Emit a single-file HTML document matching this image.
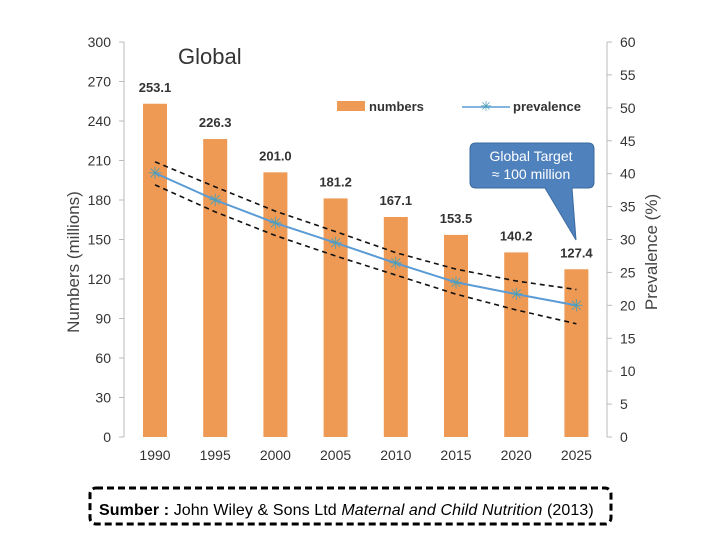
<!DOCTYPE html>
<html><head><meta charset="utf-8"><style>
body{margin:0;background:#fff;}
svg{display:block;font-family:"Liberation Sans",sans-serif;}
</style></head><body>
<svg id="chart" width="720" height="540" viewBox="0 0 720 540">
<g id="axes"></g><g id="bars"></g><g id="lines"></g>
<text x="178" y="64" font-size="22" fill="#333">Global</text>
<text transform="translate(79,262) rotate(-90)" text-anchor="middle" font-size="17" fill="#444">Numbers (millions)</text>
<text transform="translate(657,252) rotate(-90)" text-anchor="middle" font-size="17" fill="#444">Prevalence (%)</text>
<g>
<rect x="337" y="101" width="28" height="10" fill="#ee9a55"/>
<text x="369" y="111" font-size="13" font-weight="bold" fill="#333">numbers</text>
<line x1="462" y1="107" x2="510" y2="107" stroke="#5b9bd5" stroke-width="1.5"/>
<text x="486" y="111" text-anchor="middle" font-size="14" fill="#4a9fb5">✳</text>
<text x="513" y="111" font-size="13" font-weight="bold" fill="#333">prevalence</text>
</g>
<g>
<path d="M476,143 H588 Q594,143 594,149 V182 Q594,188 588,188 H572 L576,240 L545,188 H476 Q470,188 470,182 V149 Q470,143 476,143 Z" fill="#4f81bd" stroke="#3a6aa0" stroke-width="1"/>
<text x="531" y="161" text-anchor="middle" font-size="14" fill="#fff">Global Target</text>
<text x="531" y="179" text-anchor="middle" font-size="14" fill="#fff">≈ 100 million</text>
</g>
<rect x="90" y="488" width="521" height="36" rx="6" fill="none" stroke="#000" stroke-width="3" stroke-dasharray="7,4"/>
<text x="99" y="515" font-size="16" letter-spacing="0.1" fill="#000"><tspan font-weight="bold">Sumber :</tspan> John Wiley &amp; Sons Ltd <tspan font-style="italic">Maternal and Child Nutrition</tspan> (2013)</text>
</svg>
<script>
const years = ["1990","1995","2000","2005","2010","2015","2020","2025"];
const numbers = [253.1,226.3,201.0,181.2,167.1,153.5,140.2,127.4];
const prevalence = [40.1,36.0,32.5,29.5,26.4,23.5,21.7,20.0];
const upperBand = [41.8,38.0,34.3,31.2,28.0,25.5,23.7,22.4];
const lowerBand = [38.3,34.2,30.6,27.5,24.6,21.7,19.3,17.2];
const leftTicks = [0,30,60,90,120,150,180,210,240,270,300];
const rightTicks = [0,5,10,15,20,25,30,35,40,45,50,55,60];

const NS="http://www.w3.org/2000/svg";
const y0=437, yTop=42, xL=124, xR=607;
const yL=v=>y0-(v/300)*(y0-yTop);
const yR=v=>y0-(v/60)*(y0-yTop);
const xC=i=>155+i*60.2;
function mk(tag,attrs,parent,text){const e=document.createElementNS(NS,tag);for(const k in attrs)e.setAttribute(k,attrs[k]);if(text!=null)e.textContent=text;document.getElementById(parent).appendChild(e);return e;}

let e;
e=mk('line',{x1:xL,y1:yTop,x2:xL,y2:y0,stroke:'#bbb'},'axes');


e=mk('line',{x1:xR,y1:yTop,x2:xR,y2:y0,stroke:'#bbb'},'axes');


leftTicks.forEach(t=>{
  mk('line',{x1:xL-5,y1:yL(t),x2:xL,y2:yL(t),stroke:'#bbb'},'axes');
  e=mk('text',{x:111,y:yL(t)+5,'text-anchor':'end','font-size':14,fill:'#333'},'axes',t);
  
  
});
rightTicks.forEach(t=>{
  mk('line',{x1:xR,y1:yR(t),x2:xR+5,y2:yR(t),stroke:'#bbb'},'axes');
  e=mk('text',{x:620,y:yR(t)+5,'font-size':14,fill:'#333'},'axes',t);
  
  
});
years.forEach((y,i)=>{
  e=mk('text',{x:xC(i),y:460,'text-anchor':'middle','font-size':14,fill:'#333'},'axes',y);
  
  
  e=mk('rect',{x:xC(i)-12,y:yL(numbers[i]),width:24,height:y0-yL(numbers[i]),fill:'#ee9a55'},'bars');
  
  
  e=mk('text',{x:xC(i),y:yL(numbers[i])-12,'text-anchor':'middle','font-size':13,'font-weight':'bold',fill:'#333'},'bars',numbers[i].toFixed(1));
  
  
});
function pts(arr){return arr.map((v,i)=>xC(i)+','+yR(v)).join(' ');}
e=mk('polyline',{points:pts(upperBand),fill:'none',stroke:'#111','stroke-width':1.6,'stroke-dasharray':'5,4'},'lines');


e=mk('polyline',{points:pts(lowerBand),fill:'none',stroke:'#111','stroke-width':1.6,'stroke-dasharray':'5,4'},'lines');


e=mk('polyline',{points:pts(prevalence),fill:'none',stroke:'#5b9bd5','stroke-width':2},'lines');


prevalence.forEach((v,i)=>{
  e=mk('text',{x:xC(i),y:yR(v)+6,'text-anchor':'middle','font-size':17,fill:'#4a9fb5'},'lines','✳');
  
  
});
</script>
</body></html>
